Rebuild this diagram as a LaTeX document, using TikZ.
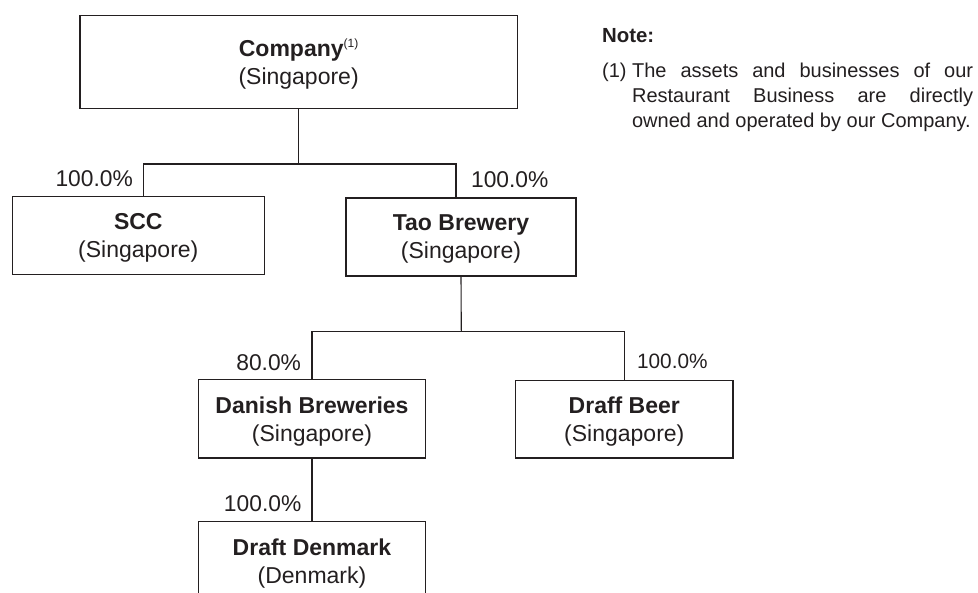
\documentclass[tikz,border=0pt]{standalone}
\usepackage{fontspec}
\setmainfont{Liberation Sans}
\usepackage{tikz}
\usetikzlibrary{positioning, calc}
\definecolor{inkgray}{HTML}{231F20}

\begin{document}
\begin{tikzpicture}[
    x=0.5pt, y=-0.5pt,
    every node/.style={text=inkgray},
    entity/.style={
      rectangle, draw=inkgray, line width=0.75pt, align=center,
      inner sep=0pt, text depth=-0.6pt, font=\fontsize{11.5}{14}\selectfont
    },
    pct/.style={inner sep=0pt, font=\fontsize{11.4}{13}\selectfont},
    link/.style={draw=inkgray, line width=0.55pt},
    notetext/.style={inner sep=0pt, font=\fontsize{10}{12.5}\selectfont},
  ]

  \useasboundingbox (0,0) rectangle (978,593);

  \node[entity, minimum width=218.7pt, minimum height=46.3pt] (company) at (298.6,62)
    {\textbf{Company}\raisebox{4.5pt}{\fontsize{6}{6}\selectfont(1)}\\(Singapore)};
  \node[entity, minimum width=126pt, minimum height=38.8pt] (scc) at (138.3,235.5)
    {\textbf{SCC}\\(Singapore)};
  \node[entity, minimum width=115pt, minimum height=39pt] (tao) at (461,237)
    {\textbf{Tao Brewery}\\(Singapore)};
  \node[entity, minimum width=113.5pt, minimum height=39.3pt] (danish) at (312,418.7)
    {\textbf{Danish Breweries}\\(Singapore)};
  \node[entity, minimum width=108.6pt, minimum height=38.7pt] (draff) at (624.3,419.3)
    {\textbf{Draff Beer}\\(Singapore)};
  \node[entity, minimum width=113.5pt, minimum height=39.5pt] (denmark) at (312,561.2)
    {\textbf{Draft Denmark}\\(Denmark)};

  \coordinate (j1) at (298.6,164);
  \coordinate (j2) at (461.3,331.7);

  \node[pct, anchor=base east] (pscc) at (133.3,186) {100.0\%};
  \node[pct, anchor=base west] (ptao) at (470.7,188) {100.0\%};
  \node[pct, anchor=base east] (pdanish) at (301.4,370) {80.0\%};
  \node[pct, anchor=base west, font=\fontsize{10.4}{12}\selectfont] (pdraff) at (636.7,368.3) {100.0\%};
  \node[pct, anchor=base east] (pdenmark) at (301.7,511) {100.0\%};

  \node[notetext, anchor=base west, font=\fontsize{10.2}{12.5}\selectfont\bfseries] (notehead) at (601.7,42.5) {Note:};
  \node[notetext, anchor=base west] (notemark) at (601.7,77.5) {(1)};
  \node[notetext, anchor=base west, text width=170.5pt, align=justify] (notebody) at (631.7,77.5)
    {The assets and businesses of our\linebreak Restaurant Business are directly\linebreak owned and operated by our Company.};

  \draw[link] (company.south) -- (j1);
  \draw[link] (j1) -| ([xshift=2.7pt]scc.north);
  \draw[link] (j1) -| ([xshift=-2.5pt]tao.north);
  \draw[link] (tao.south) -- (j2);
  \draw[link] (j2) -| (danish.north);
  \draw[link] (j2) -| (draff.north);
  \draw[link] (danish.south) -- (denmark.north);

\end{tikzpicture}
\end{document}
